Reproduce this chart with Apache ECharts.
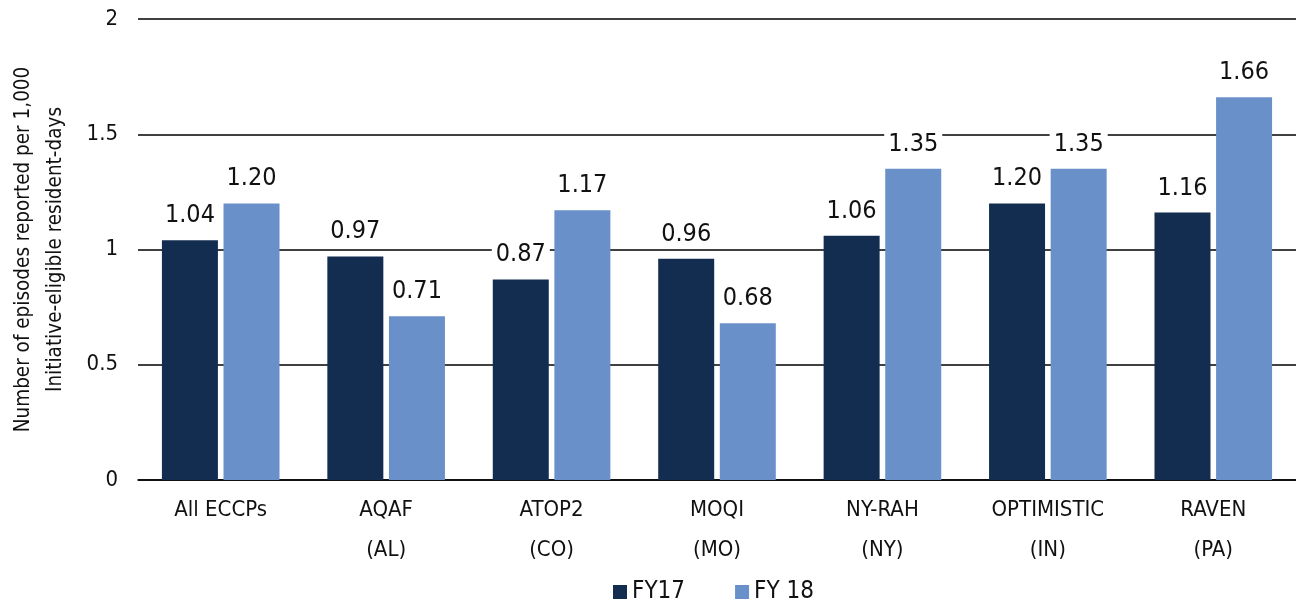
<!DOCTYPE html>
<html>
<head>
<meta charset="utf-8">
<script src="https://cdn.jsdelivr.net/npm/echarts@6/dist/echarts.min.js"></script>
<style>
  html, body { margin: 0; padding: 0; background: #fff; }
  #chart { width: 1296px; height: 611px; }
</style>
</head>
<body>
<div id="chart"></div>
<script>
// data
var categories = ['All ECCPs', 'AQAF\n(AL)', 'ATOP2\n(CO)', 'MOQI\n(MO)', 'NY-RAH\n(NY)', 'OPTIMISTIC\n(IN)', 'RAVEN\n(PA)'];
var fy17 = [1.04, 0.97, 0.87, 0.96, 1.06, 1.20, 1.16];
var fy18 = [1.20, 0.71, 1.17, 0.68, 1.35, 1.35, 1.66];
var yTicks = [0, 0.5, 1, 1.5, 2];

var font = '"DejaVu Sans Condensed", "Liberation Sans Narrow", sans-serif';

var labelStyle = {
    show: true,
    position: 'top',
    distance: 10,
    fontFamily: font,
    fontSize: 25,
    color: '#111',
    backgroundColor: '#fff',
    padding: [2, 4],
    formatter: function (p) { return p.value.toFixed(2); }
};

var chart = echarts.init(document.getElementById('chart'));
chart.setOption({
    animation: false,
    textStyle: { fontFamily: font },
    grid: { left: 138, right: 0, top: 19, bottom: 131, outerBoundsMode: 'none' },
    legend: {
        bottom: 2,
        left: 608,
        itemWidth: 14,
        itemHeight: 14,
        itemGap: 50,
        icon: 'rect',
        textStyle: { fontFamily: font, fontSize: 24, color: '#111' },
        data: ['FY17', 'FY 18']
    },
    xAxis: {
        type: 'category',
        data: categories,
        axisTick: { show: false },
        axisLine: { lineStyle: { color: '#000', width: 1.5 } },
        axisLabel: { fontFamily: font, fontSize: 22, color: '#111', lineHeight: 40, margin: 10 }
    },
    yAxis: {
        type: 'value',
        min: yTicks[0],
        max: yTicks[yTicks.length - 1],
        interval: 0.5,
        name: 'Number of episodes reported per 1,000\nInitiative-eligible resident-days',
        nameLocation: 'middle',
        nameGap: 66,
        nameTextStyle: { fontFamily: font, fontSize: 20.5, color: '#111', lineHeight: 32 },
        axisLine: { show: false },
        axisTick: { show: false },
        axisLabel: { fontFamily: font, fontSize: 22, color: '#111', margin: 20 },
        splitLine: { lineStyle: { color: '#000', width: 1.5 } }
    },
    series: [
        {
            name: 'FY17',
            type: 'bar',
            data: fy17,
            barWidth: 56,
            barGap: '10%',
            itemStyle: { color: '#132d50' },
            label: labelStyle
        },
        {
            name: 'FY 18',
            type: 'bar',
            data: fy18,
            barWidth: 56,
            itemStyle: { color: '#6990c9' },
            label: labelStyle
        }
    ]
});
</script>
</body>
</html>
